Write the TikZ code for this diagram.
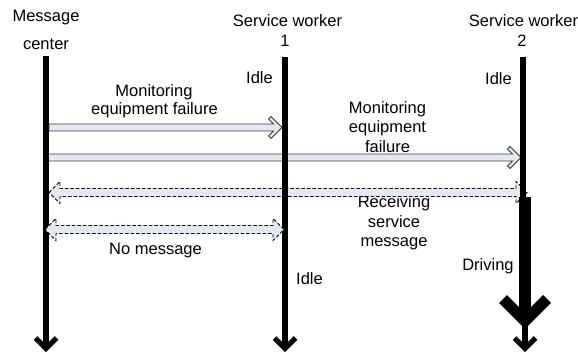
\documentclass[tikz,border=0pt]{standalone}
\usepackage{fontspec}
\setmainfont{Liberation Sans}
\usetikzlibrary{calc}
\definecolor{arrowfill}{HTML}{E3E9F3}
\definecolor{arrowline}{HTML}{3C3C3C}
% hollow message arrow with an open chevron head: start #1, tip #2 (horizontal)
\newcommand{\chevarrow}[2]{%
  \draw[chev] ($(#1)+(0,-3.5)$) -- ($(#2)+(-8.5,-3.5)$) -- ($(#2)+(-13.5,-8.5)$)
    -- ($(#2)+(-11,-11)$) -- (#2) -- ($(#2)+(-11,11)$) -- ($(#2)+(-13.5,8.5)$)
    -- ($(#2)+(-8.5,3.5)$) -- ($(#1)+(0,3.5)$) -- cycle;}
% dashed two-headed block arrow: left tip #1, right tip #2
\newcommand{\dblarrow}[2]{%
  \draw[dsh] (#1) -- ($(#1)+(11,-11)$) -- ($(#1)+(11,-4)$) -- ($(#2)+(-11,-4)$)
    -- ($(#2)+(-11,-11)$) -- (#2) -- ($(#2)+(-11,11)$) -- ($(#2)+(-11,4)$)
    -- ($(#1)+(11,4)$) -- ($(#1)+(11,11)$) -- cycle;}
\begin{document}
\begin{tikzpicture}[x=1pt,y=-1pt,
  font=\fontsize{16.5}{19.5}\selectfont,
  lbl/.style={inner sep=0pt, anchor=base},
  life/.style={line width=6pt},
  tipv/.style={line width=5pt, line join=miter, miter limit=10},
  chev/.style={draw=arrowline, fill=arrowfill, line width=0.8pt},
  dsh/.style={draw=black, fill=arrowfill, line width=0.8pt, dash pattern=on 3.5pt off 2pt}]
\useasboundingbox (0,0) rectangle (578,352);

% lifeline anchors
\coordinate (mcTop) at (46,56);
\coordinate (mcEnd) at (46,348.5);
\coordinate (w1Top) at (285,57);
\coordinate (w1End) at (285,348.5);
\coordinate (w2Top) at (522.5,57);
\coordinate (w2Mid) at (522.5,197);
\coordinate (w2Thick) at (525,197);
\coordinate (w2Head) at (525,321);
\coordinate (w2End) at (525,348.5);

% message end points
\coordinate (a1s) at (49,127.5);  \coordinate (a1t) at (282,127.5);
\coordinate (a2s) at (46,157.5);  \coordinate (a2t) at (521,157.5);
\coordinate (a3l) at (49,192.5);  \coordinate (a3r) at (527,192.5);
\coordinate (a4l) at (45,229.5);  \coordinate (a4r) at (284,229.5);

% headers
\node[lbl] (mcA) at (46,22) {Message};
\node[lbl] (mcB) at (46,49.5) {center};
\node[lbl] (w1A) at (287.5,27) {Service worker};
\node[lbl] (w1B) at (285,46.5) {1};
\node[lbl] (w2A) at (523.5,27) {Service worker};
\node[lbl] (w2B) at (522,46.5) {2};

% state and message labels
\node[lbl] (idle1) at (259.5,83.5) {Idle};
\node[lbl] (idle2) at (498.5,84.5) {Idle};
\node[lbl] (f1a) at (154,96.5) {Monitoring};
\node[lbl] (f1b) at (154.5,115) {equipment failure};
\node[lbl] (f2a) at (387.5,113.5) {Monitoring};
\node[lbl] (f2b) at (387.5,133) {equipment};
\node[lbl] (f2c) at (387.5,152.5) {failure};
\node[lbl] (rsA) at (394,208) {Receiving};
\node[lbl] (rsB) at (394,227.5) {service};
\node[lbl] (rsC) at (394,247) {message};
\node[lbl] (nomsg) at (155.5,254.5) {No message};
\node[lbl] (drv) at (488,271) {Driving};
\node[lbl] (idle3) at (309.5,285) {Idle};

% messages passing behind the lifelines
\chevarrow{a2s}{a2t}
\dblarrow{a3l}{a3r}

% lifelines
\draw[life] (mcTop) -- (mcEnd);
\draw[tipv] ($(mcEnd)+(-10.5,-10.5)$) -- (mcEnd) -- ($(mcEnd)+(10.5,-10.5)$);
\draw[life] (w1Top) -- (w1End);
\draw[tipv] ($(w1End)+(-10.5,-10.5)$) -- (w1End) -- ($(w1End)+(10.5,-10.5)$);
\draw[life] (w2Top) -- (w2Mid);
\draw[line width=12pt] (w2Thick) -- (w2Head);
\draw[line width=11pt, line join=miter, miter limit=10]
  ($(w2Head)+(-22,-22)$) -- (w2Head) -- ($(w2Head)+(22,-22)$);
\draw[life] (w2Head) -- (w2End);
\draw[tipv] ($(w2End)+(-10.5,-10.5)$) -- (w2End) -- ($(w2End)+(10.5,-10.5)$);

% messages drawn over the lifelines
\chevarrow{a1s}{a1t}
\dblarrow{a4l}{a4r}
\end{tikzpicture}
\end{document}
